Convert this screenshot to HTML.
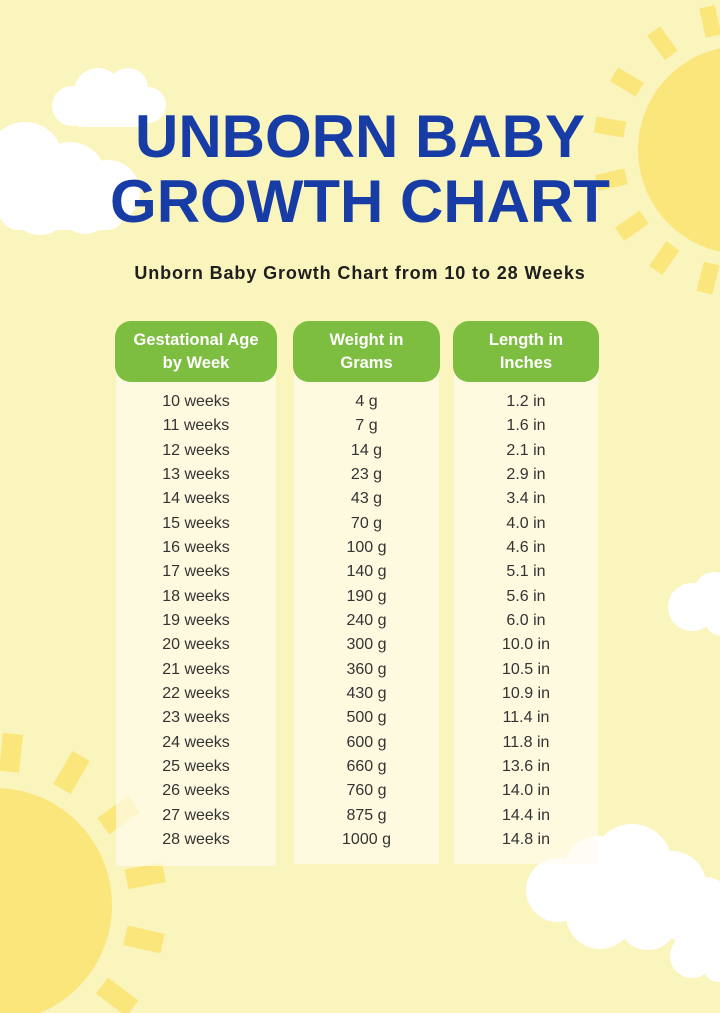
<!DOCTYPE html>
<html>
<head>
<meta charset="utf-8">
<style>
html,body{margin:0;padding:0;}
body{width:720px;height:1013px;position:relative;overflow:hidden;background:#faf4bd;font-family:"Liberation Sans",sans-serif;}
svg.bg{position:absolute;left:0;top:0;}
.title{position:absolute;left:0;width:720px;text-align:center;color:#173ca6;font-weight:bold;font-size:60px;line-height:65px;top:104px;letter-spacing:0px;}
.sub{position:absolute;left:0;width:720px;text-align:center;top:263px;font-size:18px;font-weight:bold;color:#1e1e1e;letter-spacing:0.9px;}
.col{position:absolute;top:321px;}
.body{position:absolute;left:1px;right:1px;top:50px;background:rgba(255,252,240,0.68);}
.head{position:absolute;left:0;right:0;top:0;height:61px;background:#7dbd40;border-radius:16px;color:#fff;font-weight:bold;font-size:16.5px;line-height:23px;text-align:center;display:flex;align-items:center;justify-content:center;}
.rows{position:absolute;left:0;right:0;top:69px;text-align:center;font-size:16px;color:#333333;line-height:24.33px;}
</style>
</head>
<body>
<svg class="bg" width="720" height="1013" viewBox="0 0 720 1013">
  <!-- top right sun -->
  <g fill="#fbe67c">
    <circle cx="742" cy="150" r="104"/>
    <g transform="translate(740,150)">
      <rect x="-8" y="-147" width="16" height="30" transform="rotate(-13)"/>
      <rect x="-8" y="-147" width="16" height="30" transform="rotate(-36)"/>
      <rect x="-8" y="-147" width="16" height="30" transform="rotate(-59)"/>
      <rect x="-8" y="-147" width="16" height="30" transform="rotate(-80)"/>
      <rect x="-8" y="-147" width="16" height="30" transform="rotate(-103)"/>
      <rect x="-8" y="-147" width="16" height="30" transform="rotate(-125)"/>
      <rect x="-8" y="-147" width="16" height="30" transform="rotate(-145)"/>
      <rect x="-8" y="-147" width="16" height="30" transform="rotate(-166)"/>
      <rect x="-8" y="-147" width="16" height="30" transform="rotate(8)"/>
    </g>
  </g>
  <!-- bottom left sun -->
  <g fill="#fbe67c">
    <circle cx="-5" cy="905" r="117"/>
    <g transform="translate(-5,905)">
      <rect x="-10" y="-172" width="20" height="38" transform="rotate(6)"/>
      <rect x="-10" y="-172" width="20" height="38" transform="rotate(30)"/>
      <rect x="-10" y="-172" width="20" height="38" transform="rotate(54)"/>
      <rect x="-10" y="-172" width="20" height="38" transform="rotate(79)"/>
      <rect x="-10" y="-172" width="20" height="38" transform="rotate(103)"/>
      <rect x="-10" y="-172" width="20" height="38" transform="rotate(127)"/>
      <rect x="-10" y="-172" width="20" height="38" transform="rotate(-18)"/>
    </g>
  </g>
  <!-- clouds -->
  <g fill="#ffffff">
    <!-- top-left small -->
    <circle cx="72" cy="106" r="20"/>
    <circle cx="98" cy="92" r="24"/>
    <circle cx="128" cy="88" r="20"/>
    <circle cx="148" cy="105" r="18"/>
    <rect x="70" y="100" width="80" height="27" rx="12"/>
    <!-- left big -->
    <circle cx="25" cy="160" r="38"/>
    <circle cx="-5" cy="185" r="35"/>
    <circle cx="70" cy="178" r="36"/>
    <circle cx="108" cy="192" r="32"/>
    <circle cx="40" cy="205" r="30"/>
    <circle cx="85" cy="210" r="24"/>
    <rect x="0" y="190" width="125" height="40" rx="18"/>
    <!-- right middle -->
    <circle cx="692" cy="607" r="24"/>
    <circle cx="714" cy="592" r="20"/>
    <circle cx="722" cy="618" r="18"/>
    <!-- bottom right big -->
    <circle cx="558" cy="890" r="32"/>
    <circle cx="598" cy="870" r="34"/>
    <circle cx="632" cy="864" r="40"/>
    <circle cx="672" cy="885" r="34"/>
    <circle cx="705" cy="905" r="28"/>
    <circle cx="600" cy="915" r="34"/>
    <circle cx="648" cy="920" r="30"/>
    <circle cx="690" cy="922" r="24"/>
    <!-- bottom right small -->
    <circle cx="692" cy="956" r="22"/>
    <circle cx="716" cy="945" r="25"/>
    <circle cx="718" cy="968" r="14"/>
  </g>
</svg>

<div class="title">UNBORN BABY<br>GROWTH CHART</div>
<div class="sub">Unborn Baby Growth Chart from 10 to 28 Weeks</div>

<div class="col" style="left:115px;width:162px;">
  <div class="body" style="height:495px;"></div>
  <div class="head">Gestational Age<br>by Week</div>
  <div class="rows">10 weeks<br>11 weeks<br>12 weeks<br>13 weeks<br>14 weeks<br>15 weeks<br>16 weeks<br>17 weeks<br>18 weeks<br>19 weeks<br>20 weeks<br>21 weeks<br>22 weeks<br>23 weeks<br>24 weeks<br>25 weeks<br>26 weeks<br>27 weeks<br>28 weeks</div>
</div>

<div class="col" style="left:293px;width:147px;">
  <div class="body" style="height:493px;"></div>
  <div class="head">Weight in<br>Grams</div>
  <div class="rows">4 g<br>7 g<br>14 g<br>23 g<br>43 g<br>70 g<br>100 g<br>140 g<br>190 g<br>240 g<br>300 g<br>360 g<br>430 g<br>500 g<br>600 g<br>660 g<br>760 g<br>875 g<br>1000 g</div>
</div>

<div class="col" style="left:453px;width:146px;">
  <div class="body" style="height:493px;"></div>
  <div class="head">Length in<br>Inches</div>
  <div class="rows">1.2 in<br>1.6 in<br>2.1 in<br>2.9 in<br>3.4 in<br>4.0 in<br>4.6 in<br>5.1 in<br>5.6 in<br>6.0 in<br>10.0 in<br>10.5 in<br>10.9 in<br>11.4 in<br>11.8 in<br>13.6 in<br>14.0 in<br>14.4 in<br>14.8 in</div>
</div>
</body>
</html>
